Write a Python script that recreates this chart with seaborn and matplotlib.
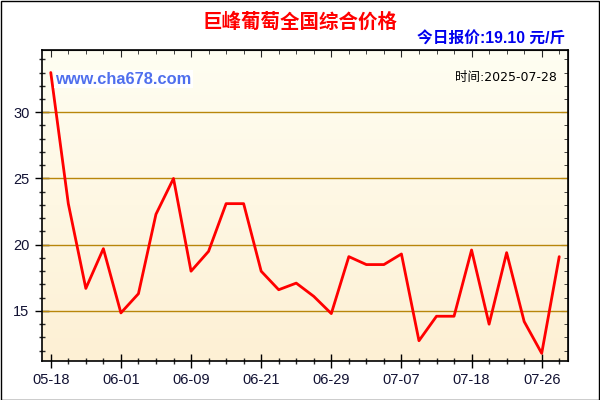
import numpy as np
import seaborn as sns
import matplotlib.pyplot as plt
from matplotlib.patches import Rectangle
from matplotlib.ticker import MultipleLocator, FixedLocator

# 日期和价格（元/斤），从图上读出来的
dates = ['05-18', '05-20', '05-22', '05-24', '06-01', '06-03', '06-05', '06-07',
         '06-09', '06-11', '06-13', '06-15', '06-21', '06-23', '06-25', '06-27',
         '06-29', '07-01', '07-03', '07-05', '07-07', '07-09', '07-11', '07-13',
         '07-18', '07-20', '07-22', '07-24', '07-26', '07-28']
prices = [33.0, 23.1, 16.7, 19.7, 14.85, 16.3, 22.3, 25.0, 18.0, 19.5,
          23.1, 23.1, 18.0, 16.6, 17.1, 16.1, 14.8, 19.1, 18.5, 18.5,
          19.3, 12.75, 14.6, 14.6, 19.6, 14.0, 19.4, 14.2, 11.8, 19.1]
label_step = 4
today_price = '19.10'
today_date = '2025-07-28'

sns.set_style('ticks')
plt.rcParams['font.family'] = ['Liberation Sans', 'Noto Sans CJK SC', 'DejaVu Sans']

fig = plt.figure(figsize=(6, 4), dpi=100)
ax = fig.add_axes([42 / 600, 39 / 400, 526 / 600, 311 / 400])

idx = np.arange(len(prices))
ax.set_xlim(-0.5, len(prices) - 0.5)
ax.set_ylim(11.22, 34.7)

# 背景渐变
grad = np.linspace(0, 1, 256).reshape(-1, 1)
cmap = plt.matplotlib.colors.LinearSegmentedColormap.from_list('bg', ['#FFFEF2', '#FDF0D4'])
ax.imshow(grad, aspect='auto', cmap=cmap, extent=[0, 1, 0, 1],
          transform=ax.transAxes, zorder=0)

for v in [15, 20, 25, 30]:
    ax.axhline(v, color='#B8860B', lw=1, zorder=1)

sns.lineplot(x=idx, y=prices, color='#FF0000', lw=2, ax=ax, zorder=3)

ax.xaxis.set_major_locator(FixedLocator(idx[::label_step]))
ax.set_xticklabels(dates[::label_step])
ax.xaxis.set_minor_locator(FixedLocator(idx))
ax.yaxis.set_major_locator(MultipleLocator(5))
ax.yaxis.set_minor_locator(MultipleLocator(1))
ax.tick_params(which='major', direction='inout', length=10, width=1, labelsize=10.5,
               colors='black', labelcolor='#111133')
ax.tick_params(which='minor', direction='inout', length=5, width=1)
ax.tick_params(axis='x', pad=4)
ax.tick_params(axis='y', pad=4)
ax.set_xlabel('')
ax.set_ylabel('')
for s in ax.spines.values():
    s.set_color('black')
    s.set_linewidth(1.2)

# 上边和右边向内的刻度
top = ax.secondary_xaxis('top')
top.xaxis.set_major_locator(FixedLocator(idx[::label_step]))
top.xaxis.set_minor_locator(FixedLocator(idx))
top.tick_params(which='major', direction='in', length=5, labeltop=False)
top.tick_params(which='minor', direction='in', length=3)
right = ax.secondary_yaxis('right')
right.yaxis.set_major_locator(MultipleLocator(5))
right.yaxis.set_minor_locator(MultipleLocator(1))
right.tick_params(which='major', direction='in', length=5, labelright=False)
right.tick_params(which='minor', direction='in', length=3)

fig.text(0.5, 1 - 22 / 400, '巨峰葡萄全国综合价格', color='#FF0000', fontsize=14,
         fontweight='bold', ha='center', va='center')
fig.text(565 / 600, 1 - 39 / 400, '今日报价:' + today_price + ' 元/斤', color='#0000EE',
         fontsize=11.3, fontweight='bold', ha='right', va='center')
ax.text(55 / 600, 1 - 79 / 400, 'www.cha678.com', transform=fig.transFigure,
        color='#4F6FEE', fontsize=11.8, fontweight='bold', ha='left', va='center', zorder=4,
        bbox=dict(facecolor='white', edgecolor='none', pad=1))
ax.text(557 / 600, 1 - 77 / 400, '时间:' + today_date, transform=fig.transFigure,
        color='black', fontsize=9, ha='right', va='center', zorder=4,
        family=['DejaVu Sans', 'Noto Sans CJK SC'])

fig.patches.append(Rectangle((0.5 / 600, 0.5 / 400), 598.5 / 600, 398.5 / 400,
                             transform=fig.transFigure, fill=False, edgecolor='black', lw=1))

fig.savefig('out.png', dpi=100)
